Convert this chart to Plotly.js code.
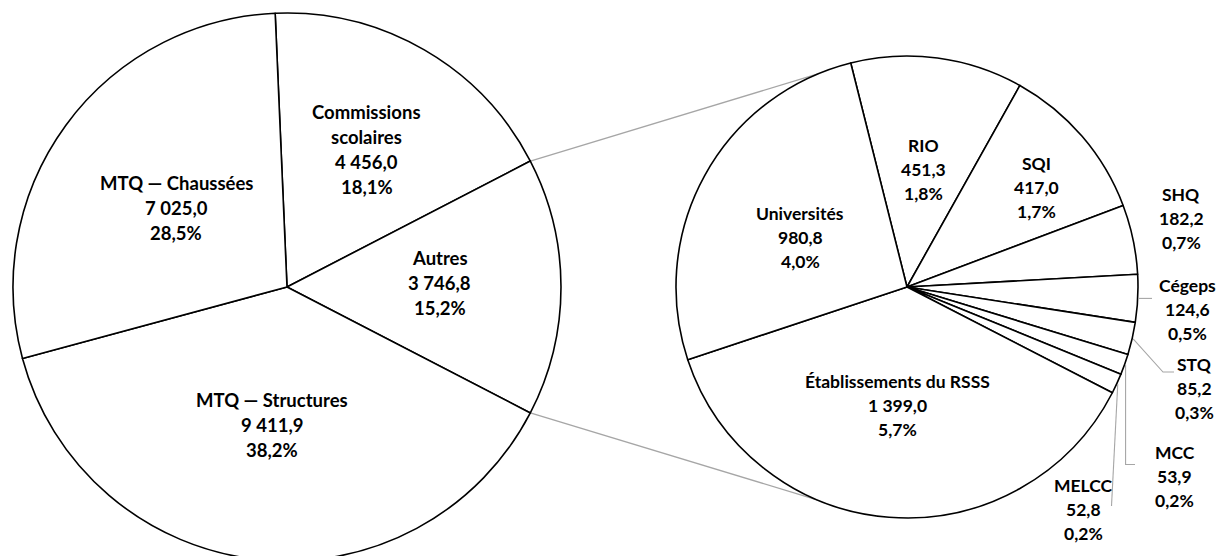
<!DOCTYPE html>
<html>
<head>
<meta charset="utf-8">
<script src="https://cdn.plot.ly/plotly-3.0.1.min.js"></script>
<style>
html,body{margin:0;padding:0;width:1219px;height:556px;overflow:hidden;background:#fff}
#wrap{width:1219px;height:556px;overflow:hidden}
#chart{width:1219px;height:570px}
</style>
</head>
<body>
<div id="wrap"><div id="chart"></div></div>
<script>
// ---- data ----
const mainNames  = ['Commissions scolaires', 'Autres', 'MTQ — Structures', 'MTQ — Chaussées'];
const mainValues = [4456.0, 3746.8, 9411.9, 7025.0];
const mainNameLines = [['Commissions', 'scolaires'], ['Autres'], ['MTQ — Structures'], ['MTQ — Chaussées']];

const subNames  = ['RIO', 'SQI', 'SHQ', 'Cégeps', 'STQ', 'MCC', 'MELCC', 'Établissements du RSSS', 'Universités'];
const subValues = [451.3, 417.0, 182.2, 124.6, 85.2, 53.9, 52.8, 1399.0, 980.8];

// ---- layout / style (not data) ----
const W = 1219, H = 570;
const LEFT = {cx: 287, cy: 287, r: 274};
const RIGHT = {cx: 907, cy: 287, r: 231};
const subRotation = -14.1;
const connectAngle = 22.7;          // where the grey connector lines touch the second pie
const FONT = 'Lato, "Open Sans", sans-serif';
const FS_MAIN = 18.5, FS_SUB = 17.5, LH_MAIN = 25, LH_SUB = 24;
// label placement relative to slice mid-angle: radius factor, angle offset (deg)
const mainLabelR  = [0.581, 0.558, 0.508, 0.496];
const mainLabelDA = [0, -1.5, 0, -0.7];
const subLabelR   = [0.513, 0.706, 1.224, 1.220, 1.319, 1.422, 1.232, 0.514, 0.510];
const subLabelDA  = [0.2, 3.3, -2.0, 1.7, 6.5, 15.75, 26.86, -0.1, -3.95];

const grandTotal = mainValues.reduce((a, b) => a + b, 0);
const subTotal = subValues.reduce((a, b) => a + b, 0);
const autresIdx = mainNames.indexOf('Autres');

function fmtNum(v) {
  const s = v.toFixed(1).split('.');
  const int = s[0].replace(/\B(?=(\d{3})+(?!\d))/g, ' ');
  return int + ',' + s[1];
}
function fmtPct(v) { return (v / grandTotal * 100).toFixed(1).replace('.', ',') + '%'; }

// Excel centres the "Autres" slice at 3 o'clock
let before = 0;
for (let i = 0; i < autresIdx; i++) before += mainValues[i];
const mainRotation = 90 - (mainValues[autresIdx] / grandTotal) * 180 - (before / grandTotal) * 360;

function domainOf(p) {
  return {
    x: [(p.cx - p.r) / W, (p.cx + p.r) / W],
    y: [(H - p.cy - p.r) / H, (H - p.cy + p.r) / H]
  };
}
function polar(p, angDeg, rr) {
  const a = angDeg * Math.PI / 180;
  return [p.cx + rr * Math.sin(a), p.cy - rr * Math.cos(a)];
}
const px = x => x / W, py = y => 1 - y / H;

const pieStyle = {
  type: 'pie', sort: false, direction: 'clockwise', textinfo: 'none', hoverinfo: 'skip',
  showlegend: false
};
const traces = [
  Object.assign({}, pieStyle, {
    labels: mainNames, values: mainValues, rotation: mainRotation, domain: domainOf(LEFT),
    marker: {colors: mainValues.map(() => '#ffffff'), line: {color: '#000000', width: 1.6}}
  }),
  Object.assign({}, pieStyle, {
    labels: subNames, values: subValues, rotation: subRotation, domain: domainOf(RIGHT),
    marker: {colors: subValues.map(() => '#ffffff'), line: {color: '#000000', width: 1.6}}
  })
];

const annotations = [];
function addLabel(center, lines, fs, lh) {
  const n = lines.length;
  lines.forEach((t, i) => {
    const y = center[1] + (i - (n - 1) / 2) * lh;
    annotations.push({
      xref: 'paper', yref: 'paper', x: px(center[0]), y: py(y),
      xanchor: 'center', yanchor: 'middle', showarrow: false,
      text: '<b>' + t + '</b>', font: {family: FONT, size: fs, color: '#000000'}
    });
  });
}

// main pie labels
let acc = 0;
const mainMid = [];
mainValues.forEach((v, i) => {
  const mid = mainRotation + (acc + v / 2) / grandTotal * 360;
  mainMid.push(mid);
  acc += v;
  const c = polar(LEFT, mid + mainLabelDA[i], mainLabelR[i] * LEFT.r);
  addLabel(c, mainNameLines[i].concat([fmtNum(v), fmtPct(v)]), FS_MAIN, LH_MAIN);
});

// sub pie labels
acc = 0;
const subMid = [];
subValues.forEach((v, i) => {
  const mid = subRotation + (acc + v / 2) / subTotal * 360;
  subMid.push(mid);
  acc += v;
  const c = polar(RIGHT, mid + subLabelDA[i], subLabelR[i] * RIGHT.r);
  addLabel(c, [subNames[i], fmtNum(v), fmtPct(v)], FS_SUB, LH_SUB);
});

// connector lines between the two pies
const shapes = [];
let cum = 0;
for (let i = 0; i < autresIdx; i++) cum += mainValues[i];
const aStart = mainRotation + cum / grandTotal * 360;
const aEnd = aStart + mainValues[autresIdx] / grandTotal * 360;
const grey = {color: '#a6a6a6', width: 1.3};
function pathOf(pts) {
  return 'M' + pts.map(p => px(p[0]) + ',' + py(p[1])).join(' L');
}
[[aStart, -connectAngle], [aEnd, 180 + connectAngle]].forEach(([a, b]) => {
  const p0 = polar(LEFT, a, LEFT.r), p1 = polar(RIGHT, b, RIGHT.r);
  shapes.push({type: 'line', xref: 'paper', yref: 'paper', x0: px(p0[0]), y0: py(p0[1]),
               x1: px(p1[0]), y1: py(p1[1]), line: grey, layer: 'below'});
});

// leader lines for small outside labels
const leaderStyle = {color: '#a6a6a6', width: 1.1};
function leader(name, rest) {
  const i = subNames.indexOf(name);
  const s = polar(RIGHT, subMid[i], RIGHT.r + 1);
  const pts = [s].concat(rest(s));
  shapes.push({type: 'path', xref: 'paper', yref: 'paper', path: pathOf(pts), line: leaderStyle});
}
leader('Cégeps', s => [[1152, s[1]]]);
leader('STQ', s => [[1163, 372], [1174, 372]]);
leader('MCC', s => [[s[0], 464.5], [1135, 464.5]]);
leader('MELCC', s => [[1111.5, 506]]);

const layout = {
  width: W, height: H, margin: {l: 0, r: 0, t: 0, b: 0, pad: 0},
  paper_bgcolor: '#ffffff', plot_bgcolor: '#ffffff',
  showlegend: false, annotations: annotations, shapes: shapes,
  font: {family: FONT}
};
Plotly.newPlot('chart', traces, layout, {staticPlot: true, displayModeBar: false});
</script>
</body>
</html>
